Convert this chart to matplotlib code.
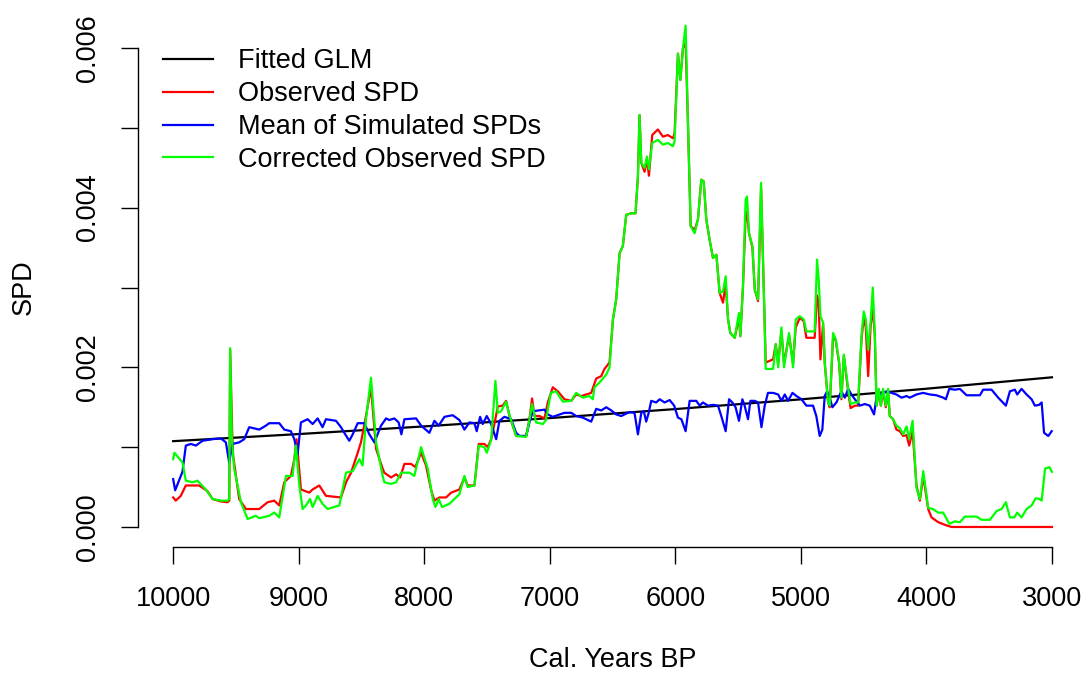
import matplotlib
matplotlib.use("Agg")
import matplotlib.pyplot as plt
from matplotlib.lines import Line2D

plt.rcParams['font.family'] = ['Liberation Sans', 'DejaVu Sans']

# ---------------- data ----------------
glm_years = [10000, 9000, 8000, 7000, 6000, 5000, 4000, 3000]
glm_spd = [0.001075, 0.001164, 0.001260, 0.001364, 0.001477, 0.001599, 0.001732, 0.001875]

obs_years = [10000, 9979, 9939, 9899, 9793, 9727, 9686, 9620, 9567, 9553, 9546, 9530, 9522, 9474,
             9420, 9314, 9248, 9195, 9155, 9115, 9062, 9035, 9017, 8982, 8916, 8889, 8836, 8783,
             8663, 8623, 8583, 8530, 8504, 8464, 8424, 8384, 8331, 8318, 8264, 8224, 8192, 8158,
             8105, 8071, 8025, 7986, 7946, 7919, 7879, 7826, 7786, 7720, 7680, 7654, 7600, 7566,
             7521, 7494, 7467, 7441, 7414, 7375, 7348, 7321, 7268, 7188, 7162, 7141, 7122, 7082,
             7042, 7016, 6976, 6936, 6883, 6829, 6790, 6750, 6710, 6670, 6630, 6590, 6564, 6524,
             6497, 6471, 6444, 6418, 6391, 6351, 6317, 6298, 6285, 6271, 6245, 6226, 6210, 6184,
             6139, 6099, 6059, 6019, 6006, 5979, 5960, 5939, 5918, 5900, 5878, 5846, 5820, 5793,
             5774, 5753, 5727, 5700, 5673, 5647, 5620, 5599, 5580, 5562, 5527, 5493, 5482, 5461,
             5440, 5429, 5413, 5386, 5367, 5341, 5317, 5296, 5280, 5221, 5200, 5181, 5155, 5134,
             5094, 5062, 5041, 5009, 4977, 4956, 4890, 4871, 4858, 4844, 4823, 4810, 4783, 4770,
             4743, 4722, 4695, 4677, 4658, 4636, 4623, 4604, 4570, 4544, 4517, 4499, 4483, 4464,
             4445, 4427, 4411, 4397, 4379, 4363, 4345, 4323, 4305, 4292, 4265, 4239, 4212, 4185,
             4158, 4137, 4110, 4079, 4052, 4025, 3986, 3959, 3906, 3840, 3800, 3000]
obs_spd = [0.00037, 0.00033, 0.00039, 0.00052, 0.00052, 0.00045, 0.00035, 0.00032, 0.00031, 0.00033,
           0.00222, 0.00120, 0.00089, 0.00035, 0.000225, 0.000225, 0.00031, 0.00033, 0.00027, 0.00056,
           0.00064, 0.00085, 0.00110, 0.00047, 0.00043, 0.00047, 0.00052, 0.00039, 0.00037, 0.00056,
           0.00068, 0.00093, 0.00106, 0.00139, 0.00175, 0.00098, 0.00073, 0.00068, 0.00062, 0.00066,
           0.00062, 0.00079, 0.00079, 0.00075, 0.00093, 0.00077, 0.00047, 0.00033, 0.00037, 0.00037,
           0.00043, 0.00047, 0.00062, 0.00052, 0.00052, 0.00104, 0.00104, 0.00100, 0.00110, 0.00129,
           0.00151, 0.00152, 0.00158, 0.00139, 0.00114, 0.00114, 0.00135, 0.00161, 0.00139, 0.00139,
           0.00136, 0.00156, 0.00175, 0.00170, 0.00160, 0.00158, 0.00166, 0.00164, 0.00166, 0.00168,
           0.00186, 0.00189, 0.00198, 0.00206, 0.00260, 0.00285, 0.00343, 0.00352, 0.00391, 0.00393,
           0.00393, 0.00439, 0.00516, 0.00456, 0.00445, 0.00460, 0.00440, 0.00491, 0.00498, 0.00489,
           0.00491, 0.00487, 0.00493, 0.00593, 0.00560, 0.00600, 0.00606, 0.00510, 0.00377, 0.00372,
           0.00385, 0.00435, 0.00433, 0.00385, 0.00360, 0.00337, 0.00341, 0.00293, 0.00281, 0.00305,
           0.00260, 0.00243, 0.00237, 0.00262, 0.00239, 0.00302, 0.00390, 0.00395, 0.00368, 0.00350,
           0.00297, 0.00283, 0.00425, 0.00302, 0.00206, 0.00210, 0.00229, 0.00205, 0.00245, 0.00205,
           0.00240, 0.00205, 0.00250, 0.00262, 0.00258, 0.00237, 0.00237, 0.00290, 0.00280, 0.00210,
           0.00255, 0.00206, 0.00156, 0.00150, 0.00240, 0.00233, 0.00205, 0.00160, 0.00214, 0.00186,
           0.00170, 0.00149, 0.00152, 0.00152, 0.00235, 0.00262, 0.00250, 0.00189, 0.00250, 0.00275,
           0.00240, 0.00152, 0.00170, 0.00152, 0.00170, 0.00150, 0.00170, 0.00139, 0.00135, 0.00122,
           0.00120, 0.00114, 0.00115, 0.00102, 0.00120, 0.00052, 0.00033, 0.00064, 0.000225, 0.00012,
           0.00006, 0.00002, 0.0, 0.0]

sim_years = [10000, 9984, 9926, 9899, 9859, 9819, 9766, 9686, 9620, 9580, 9554, 9527, 9474, 9434,
             9394, 9314, 9261, 9235, 9155, 9115, 9062, 9035, 9009, 8982, 8929, 8889, 8849, 8810,
             8783, 8703, 8663, 8637, 8597, 8570, 8530, 8477, 8437, 8397, 8344, 8304, 8278, 8238,
             8204, 8182, 8158, 8065, 8025, 7959, 7919, 7885, 7839, 7773, 7720, 7680, 7640, 7600,
             7582, 7555, 7534, 7502, 7467, 7427, 7401, 7361, 7308, 7268, 7241, 7188, 7162, 7135,
             7042, 7016, 6976, 6883, 6829, 6790, 6737, 6670, 6630, 6590, 6550, 6510, 6471, 6431,
             6405, 6365, 6325, 6298, 6271, 6251, 6232, 6212, 6192, 6152, 6125, 6085, 6045, 6009,
             5979, 5952, 5918, 5886, 5833, 5806, 5780, 5740, 5700, 5660, 5634, 5599, 5572, 5546,
             5520, 5493, 5466, 5448, 5421, 5402, 5367, 5341, 5314, 5288, 5262, 5221, 5181, 5155,
             5128, 5102, 5067, 5035, 4995, 4956, 4903, 4877, 4850, 4829, 4810, 4791, 4770, 4749,
             4717, 4677, 4650, 4623, 4597, 4570, 4530, 4491, 4451, 4417, 4393, 4358, 4318, 4278,
             4239, 4198, 4158, 4132, 4079, 4026, 3973, 3920, 3866, 3845, 3818, 3773, 3733, 3680,
             3574, 3548, 3481, 3428, 3367, 3335, 3295, 3277, 3242, 3202, 3162, 3136, 3102, 3082,
             3063, 3029, 3002]
sim_spd = [0.00060, 0.00046, 0.00069, 0.00102, 0.00104, 0.00102, 0.00108, 0.00110, 0.00111, 0.00106,
           0.00081, 0.00104, 0.00106, 0.00110, 0.00125, 0.00122, 0.00127, 0.00130, 0.00130, 0.00122,
           0.00120, 0.00110, 0.00091, 0.00131, 0.00135, 0.00129, 0.00136, 0.00125, 0.00135, 0.00133,
           0.00125, 0.00118, 0.00108, 0.00116, 0.00130, 0.00130, 0.00116, 0.00106, 0.00127, 0.00136,
           0.00134, 0.00136, 0.00131, 0.00116, 0.00135, 0.00136, 0.00127, 0.00118, 0.00133, 0.00127,
           0.00138, 0.00140, 0.00134, 0.00122, 0.00131, 0.00130, 0.00120, 0.00138, 0.00129, 0.00139,
           0.00129, 0.00110, 0.00133, 0.00138, 0.00135, 0.00118, 0.00114, 0.00114, 0.00131, 0.00145,
           0.00147, 0.00141, 0.00138, 0.00143, 0.00143, 0.00139, 0.00137, 0.00132, 0.00148, 0.00146,
           0.00150, 0.00146, 0.00141, 0.00139, 0.00141, 0.00144, 0.00143, 0.00116, 0.00143, 0.00145,
           0.00132, 0.00143, 0.00158, 0.00156, 0.00160, 0.00156, 0.00159, 0.00152, 0.00137, 0.00135,
           0.00120, 0.00158, 0.00158, 0.00152, 0.00156, 0.00152, 0.00153, 0.00152, 0.00139, 0.00120,
           0.00160, 0.00156, 0.00150, 0.00133, 0.00160, 0.00152, 0.00135, 0.00158, 0.00158, 0.00156,
           0.00125, 0.00152, 0.00168, 0.00168, 0.00166, 0.00158, 0.00166, 0.00158, 0.00168, 0.00164,
           0.00160, 0.00152, 0.00152, 0.00139, 0.00114, 0.00122, 0.00164, 0.00170, 0.00162, 0.00150,
           0.00156, 0.00170, 0.00162, 0.00173, 0.00166, 0.00160, 0.00152, 0.00154, 0.00152, 0.00141,
           0.00168, 0.00166, 0.00170, 0.00168, 0.00166, 0.00162, 0.00164, 0.00162, 0.00166, 0.00168,
           0.00166, 0.00165, 0.00162, 0.00160, 0.00173, 0.00172, 0.00173, 0.00165, 0.00165, 0.00172,
           0.00172, 0.00162, 0.00152, 0.00170, 0.00172, 0.00166, 0.00173, 0.00166, 0.00160, 0.00152,
           0.00153, 0.00156, 0.00118, 0.00114, 0.00120]

cor_years = [10000, 9990, 9926, 9899, 9846, 9806, 9740, 9686, 9620, 9567, 9553, 9546, 9532, 9514,
             9460, 9407, 9341, 9314, 9235, 9195, 9155, 9101, 9049, 9022, 8995, 8969, 8942, 8910,
             8889, 8849, 8810, 8770, 8676, 8623, 8570, 8517, 8491, 8464, 8424, 8384, 8331, 8318,
             8264, 8224, 8184, 8118, 8079, 8025, 7972, 7932, 7911, 7885, 7858, 7800, 7720, 7680,
             7654, 7600, 7566, 7521, 7502, 7467, 7433, 7414, 7388, 7348, 7321, 7268, 7188, 7162,
             7141, 7109, 7055, 7030, 6992, 6950, 6896, 6829, 6790, 6737, 6684, 6657, 6644, 6604,
             6550, 6524, 6497, 6471, 6444, 6418, 6391, 6351, 6317, 6298, 6285, 6271, 6245, 6226,
             6210, 6184, 6139, 6099, 6059, 6019, 6006, 5979, 5960, 5939, 5918, 5900, 5878, 5846,
             5820, 5793, 5774, 5753, 5727, 5700, 5673, 5647, 5620, 5599, 5580, 5562, 5527, 5493,
             5482, 5461, 5440, 5429, 5413, 5386, 5367, 5341, 5317, 5296, 5280, 5221, 5200, 5181,
             5155, 5134, 5094, 5062, 5041, 5009, 4977, 4956, 4890, 4871, 4858, 4844, 4823, 4810,
             4783, 4770, 4743, 4722, 4695, 4677, 4658, 4636, 4623, 4604, 4570, 4544, 4517, 4499,
             4483, 4464, 4445, 4427, 4411, 4397, 4379, 4363, 4345, 4323, 4305, 4292, 4265, 4239,
             4212, 4185, 4158, 4137, 4110, 4079, 4052, 4025, 3986, 3948, 3906, 3866, 3818, 3773,
             3733, 3694, 3600, 3560, 3494, 3441, 3401, 3367, 3335, 3300, 3277, 3242, 3202, 3162,
             3130, 3098, 3082, 3055, 3020, 3000]
cor_spd = [0.00085, 0.00093, 0.00081, 0.00058, 0.00056, 0.00058, 0.00047, 0.00035, 0.00033, 0.00033,
           0.00035, 0.00224, 0.00110, 0.00073, 0.00031, 0.00010, 0.00014, 0.00011, 0.00014, 0.00018,
           0.00012, 0.00064, 0.00064, 0.00102, 0.00052, 0.000225, 0.00027, 0.00035, 0.00025, 0.00039,
           0.00029, 0.000225, 0.00027, 0.00068, 0.00070, 0.00085, 0.00077, 0.00135, 0.00187, 0.00106,
           0.00064, 0.00056, 0.00054, 0.00056, 0.00068, 0.00068, 0.00064, 0.00100, 0.00073, 0.00035,
           0.00025, 0.00035, 0.00025, 0.00029, 0.00041, 0.00064, 0.00050, 0.00052, 0.00102, 0.00100,
           0.00093, 0.00109, 0.00183, 0.00143, 0.00145, 0.00157, 0.00140, 0.00114, 0.00113, 0.00134,
           0.00154, 0.00131, 0.00129, 0.00134, 0.00168, 0.00170, 0.00157, 0.00158, 0.00168, 0.00162,
           0.00164, 0.00160, 0.00175, 0.00181, 0.00191, 0.00200, 0.00260, 0.00285, 0.00343, 0.00352,
           0.00391, 0.00393, 0.00393, 0.00439, 0.00516, 0.00456, 0.00450, 0.00464, 0.00448, 0.00481,
           0.00485, 0.00479, 0.00481, 0.00477, 0.00483, 0.00593, 0.00560, 0.00600, 0.00628, 0.00510,
           0.00377, 0.00368, 0.00385, 0.00435, 0.00433, 0.00385, 0.00360, 0.00337, 0.00341, 0.00293,
           0.00295, 0.00314, 0.00260, 0.00243, 0.00237, 0.00268, 0.00239, 0.00302, 0.00410, 0.00414,
           0.00368, 0.00352, 0.00297, 0.00285, 0.00431, 0.00302, 0.00198, 0.00198, 0.00229, 0.00200,
           0.00250, 0.00200, 0.00243, 0.00200, 0.00260, 0.00264, 0.00260, 0.00245, 0.00245, 0.00335,
           0.00310, 0.00264, 0.00256, 0.00206, 0.00156, 0.00152, 0.00243, 0.00235, 0.00206, 0.00162,
           0.00216, 0.00189, 0.00173, 0.00154, 0.00156, 0.00156, 0.00239, 0.00270, 0.00260, 0.00222,
           0.00256, 0.00300, 0.00243, 0.00152, 0.00173, 0.00152, 0.00173, 0.00152, 0.00173, 0.00139,
           0.00135, 0.00127, 0.00124, 0.00116, 0.00126, 0.00110, 0.00133, 0.00049, 0.00035, 0.00070,
           0.00024, 0.000225, 0.00018, 0.00018, 0.00004, 0.00007, 0.00006, 0.00013, 0.00013, 0.00009,
           0.00009, 0.00020, 0.000225, 0.00031, 0.00012, 0.00012, 0.00018, 0.00012, 0.000225, 0.00027,
           0.00036, 0.00035, 0.00033, 0.00073, 0.00075, 0.00069]

legend_labels = ["Fitted GLM", "Observed SPD", "Mean of Simulated SPDs", "Corrected Observed SPD"]
legend_colors = ["black", "red", "blue", "#00FF00"]
x_ticks = [10000, 9000, 8000, 7000, 6000, 5000, 4000, 3000]
y_ticks = [0.000, 0.001, 0.002, 0.003, 0.004, 0.005, 0.006]
y_ticklabels = ["0.000", "", "0.002", "", "0.004", "", "0.006"]

# ---------------- figure ----------------
W, H = 1089, 678
fig = plt.figure(figsize=(W / 100, H / 100), dpi=100)
ax = fig.add_axes([138.0 / W, 1 - 546.7 / H, (1087.1 - 138.0) / W, (546.7 - 14.5) / H])

lw = 1.6
ax.plot(glm_years, glm_spd, color=legend_colors[0], lw=lw)
ax.plot(obs_years, obs_spd, color=legend_colors[1], lw=lw)
ax.plot(sim_years, sim_spd, color=legend_colors[2], lw=lw)
ax.plot(cor_years, cor_spd, color=legend_colors[3], lw=lw)

ax.set_xlim(10280, 2720)
ax.set_ylim(-0.000247, 0.00642)

for s in ["top", "right"]:
    ax.spines[s].set_visible(False)
ax.spines["left"].set_bounds(0.0, 0.006)
ax.spines["bottom"].set_bounds(10000, 3000)
for s in ["left", "bottom"]:
    ax.spines[s].set_linewidth(1.0)

fs = 19.5
ax.set_xticks(x_ticks)
ax.set_xticklabels([str(v) for v in x_ticks])
ax.set_yticks(y_ticks)
ax.set_yticklabels(y_ticklabels)
ax.tick_params(axis="both", direction="out", length=12, width=1.0, labelsize=fs, color="black")
ax.tick_params(axis="x", pad=16)
ax.tick_params(axis="y", pad=15)
for lab in ax.get_yticklabels():
    lab.set_rotation(90)
    lab.set_va("center")

fig.text(613 / W, 1 - 660 / H, "Cal. Years BP", ha="center", va="center", fontsize=fs)
fig.text(24 / W, 1 - 287 / H, "SPD", ha="center", va="center", rotation=90, fontsize=fs)

# legend (no box)
line_y = [59, 91.7, 125, 157.3]
for yy, lab, col in zip(line_y, legend_labels, legend_colors):
    fig.add_artist(Line2D([163 / W, 213 / W], [1 - yy / H, 1 - yy / H], color=col, lw=lw))
    fig.text(238.5 / W, 1 - (yy + 9.3) / H, lab, ha="left", va="baseline", fontsize=fs)

fig.savefig("out.png", dpi=100)
